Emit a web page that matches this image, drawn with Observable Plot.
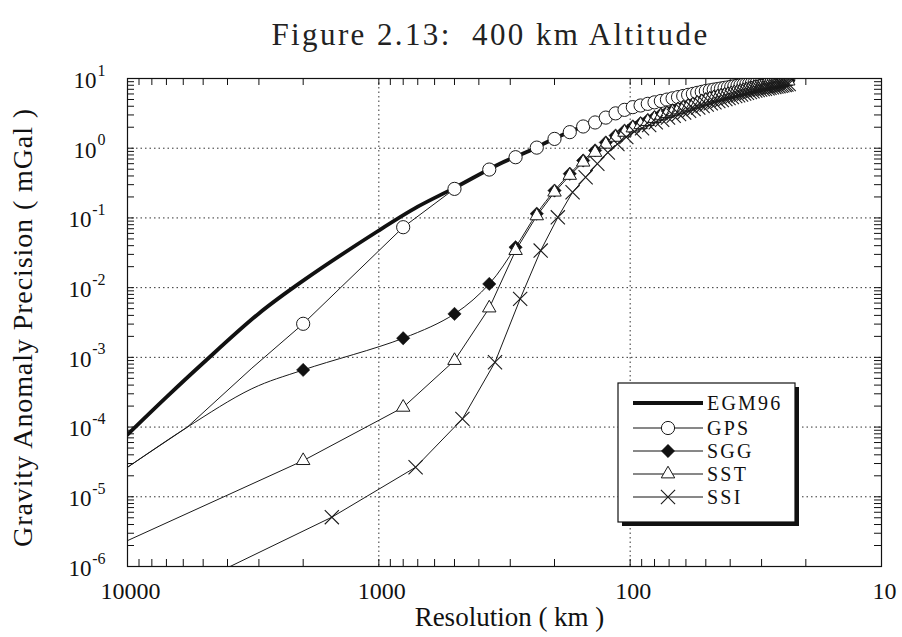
<!DOCTYPE html>
<html><head><meta charset="utf-8">
<script src="https://cdn.jsdelivr.net/npm/d3@7"></script>
<script src="https://cdn.jsdelivr.net/npm/@observablehq/plot@0.6"></script>
<style>body{margin:0;background:#fff;}</style>
</head><body><div id="chart"></div>
<script>
// ---------- text ----------
const titleText = "Figure 2.13:\u00a0 400 km Altitude";
const xLabel = "Resolution ( km )";
const yLabel = "Gravity Anomaly Precision ( mGal )";
const xTickLabels = [10000, 1000, 100, 10];
const yExponents = [1, 0, -1, -2, -3, -4, -5, -6];
const seriesNames = ["EGM96", "GPS", "SGG", "SST", "SSI"];

// ---------- data (resolution km, precision mGal) ----------
const egmRes = [10000, 7000, 5000, 3000, 2000, 1000, 700, 500, 330, 250, 200, 160, 125, 100, 80, 63, 50, 40, 32, 23.5];
const egmVal = [7.8e-5, 2.69e-4, 8.3e-4, 4.27e-3, 0.0126, 0.066, 0.145, 0.27, 0.60, 0.93, 1.38, 1.95, 2.75, 3.8, 4.55, 5.6, 6.62, 7.5, 8.6, 9.79];

// marker resolutions for GPS, SGG, SST
const markRes = [2000, 800, 500, 363.6, 285.7, 235.3, 200, 173.9, 153.8, 137.9,
  125, 114.3, 105.3, 97.6, 90.9, 85.1, 80, 75.5, 71.4, 67.8,
  64.5, 61.5, 58.8, 56.3, 54.1, 51.9, 50, 48.2, 46.5, 44.9,
  43.5, 42.1, 40.8, 39.6, 38.5, 37.4, 36.4, 35.4, 34.5, 33.6,
  32.8, 32, 31.3, 30.5, 29.9, 29.2, 28.6, 28, 27.4, 26.8,
  26.3, 25.8, 25.3, 24.8, 24.4, 24, 23.5];
const gpsVal = [0.00303, 0.0736, 0.261, 0.494, 0.743, 1.02, 1.36, 1.70, 2.05, 2.34,
  2.75, 3.16, 3.55, 3.88, 4.10, 4.33, 4.55, 4.76, 4.98, 5.19,
  5.40, 5.61, 5.82, 6.01, 6.22, 6.43, 6.62, 6.76, 6.92, 7.06,
  7.19, 7.34, 7.46, 7.60, 7.74, 7.87, 8.00, 8.15, 8.26, 8.40,
  8.51, 8.65, 8.75, 8.85, 8.93, 9.04, 9.12, 9.20, 9.29, 9.40,
  9.46, 9.55, 9.64, 9.73, 9.75, 9.77, 9.79];
const sggVal = [6.6e-4, 1.88e-3, 4.2e-3, 0.0113, 0.038, 0.115, 0.247, 0.43, 0.667, 0.93,
  1.21, 1.52, 1.79, 2.06, 2.29, 2.54, 2.80, 3.06, 3.29, 3.50,
  3.71, 3.94, 4.16, 4.37, 4.59, 4.83, 5.05, 5.28, 5.48, 5.64,
  5.80, 5.96, 6.11, 6.27, 6.43, 6.58, 6.73, 6.89, 7.05, 7.21,
  7.35, 7.52, 7.64, 7.82, 7.94, 8.07, 8.18, 8.30, 8.41, 8.55,
  8.65, 8.77, 8.89, 9.02, 9.10, 9.20, 9.33];
const sstVal = [3.3e-5, 1.92e-4, 9.0e-4, 5.1e-3, 0.034, 0.107, 0.234, 0.407, 0.63, 0.87,
  1.14, 1.43, 1.69, 1.95, 2.17, 2.41, 2.66, 2.91, 3.13, 3.33,
  3.54, 3.76, 3.98, 4.18, 4.40, 4.63, 4.85, 5.07, 5.27, 5.43,
  5.59, 5.75, 5.90, 6.06, 6.22, 6.37, 6.52, 6.68, 6.84, 7.00,
  7.14, 7.31, 7.43, 7.61, 7.73, 7.86, 7.98, 8.10, 8.22, 8.36,
  8.47, 8.59, 8.72, 8.85, 8.94, 9.04, 9.18];
const ssiRes = [1538, 714, 465, 345, 274, 227, 194, 169.5, 150.4, 135.1,
  122.7, 112.4, 103.6, 96.2, 89.7, 84.0, 79.1, 74.6, 70.7, 67.1,
  63.9, 61.0, 58.3, 55.9, 53.6, 51.5, 49.6, 47.8, 46.2, 44.6,
  43.2, 41.8, 40.6, 39.4, 38.2, 37.2, 36.2, 35.2, 34.3, 33.4,
  32.6, 31.8, 31.1, 30.4, 29.7, 29.1, 28.4, 27.9, 27.3, 26.7,
  26.2, 25.7, 25.2, 24.8, 24.3, 23.9, 23.4];
const ssiVal = [5.1e-6, 2.65e-5, 1.31e-4, 8.5e-4, 6.9e-3, 0.034, 0.102, 0.234, 0.384, 0.60,
  0.87, 1.15, 1.45, 1.74, 1.93, 2.15, 2.36, 2.56, 2.76, 2.92,
  3.09, 3.26, 3.44, 3.64, 3.83, 4.03, 4.22, 4.40, 4.56, 4.74,
  4.92, 5.09, 5.25, 5.43, 5.60, 5.74, 5.90, 6.07, 6.24, 6.40,
  6.56, 6.73, 6.84, 6.94, 7.05, 7.14, 7.26, 7.35, 7.46, 7.57,
  7.67, 7.76, 7.88, 7.98, 8.09, 8.19, 8.32];

// line-only leading points (left of first marker)
const gpsLeadRes = [10000, 5800, 3200], gpsLeadVal = [2.65e-5, 9.9e-5, 7.0e-4];
const sggLeadRes = [10000, 5800, 3200], sggLeadVal = [2.65e-5, 9.9e-5, 3.55e-4];
const sstLeadRes = [10000], sstLeadVal = [2.35e-6];
const ssiLeadRes = [5000], ssiLeadVal = [6.5e-7];

// ---------- build tables ----------
const pts = (rs, vs) => rs.map((r, i) => ({r, v: vs[i]}));
const egm = pts(egmRes, egmVal);
const gpsM = pts(markRes, gpsVal), sggM = pts(markRes, sggVal), sstM = pts(markRes, sstVal), ssiM = pts(ssiRes, ssiVal);
const gpsL = pts(gpsLeadRes, gpsLeadVal).concat(gpsM);
const sggL = pts(sggLeadRes, sggLeadVal).concat(sggM);
const sstL = pts(sstLeadRes, sstLeadVal).concat(sstM);
const ssiL = pts(ssiLeadRes, ssiLeadVal).concat(ssiM);

const W = 902, H = 637, mL = 127, mR = 21, mT = 78, mB = 71;
const innerW = W - mL - mR, innerH = H - mT - mB;
const xMinor = d3.scaleLog().domain([10, 10000]).ticks();
const yMinor = d3.scaleLog().domain([1e-6, 10]).ticks();
const yMajor = yExponents.map(e => Math.pow(10, e));
const TL = 7;
const lineStroke = "#1a1a1a";
const font = "'Liberation Serif', 'Times New Roman', serif";

const markerStyle = {
  GPS: {symbol: "circle", r: 6.6, fill: "white", stroke: lineStroke, strokeWidth: 1},
  SGG: {symbol: "diamond2", r: 6, fill: "#111", stroke: "#111", strokeWidth: 0.5},
  SST: {symbol: "triangle", r: 5, fill: "white", stroke: lineStroke, strokeWidth: 1},
  SSI: {symbol: "times", r: 6.5, fill: "none", stroke: lineStroke, strokeWidth: 1.1}
};

const svg = Plot.plot({
  width: W, height: H,
  marginLeft: mL, marginRight: mR, marginTop: mT, marginBottom: mB,
  style: {fontFamily: font, background: "white", color: "#111"},
  x: {type: "log", domain: [10000, 10], axis: null},
  y: {type: "log", domain: [1e-6, 10], axis: null},
  marks: [
    // dotted grid
    Plot.ruleX(xTickLabels, {x: d => d, stroke: "#333", strokeWidth: 1, strokeDasharray: "1.5,3"}),
    Plot.ruleY(yMajor, {y: d => d, stroke: "#333", strokeWidth: 1, strokeDasharray: "1.5,3"}),
    // inward ticks
    Plot.tickX(xMinor, {x: d => d, insetTop: innerH - TL, stroke: "#111"}),
    Plot.tickX(xMinor, {x: d => d, insetBottom: innerH - TL, stroke: "#111"}),
    Plot.tickY(yMinor, {y: d => d, insetRight: innerW - TL, stroke: "#111"}),
    Plot.tickY(yMinor, {y: d => d, insetLeft: innerW - TL, stroke: "#111"}),
    // series
    Plot.line(egm, {x: "r", y: "v", stroke: "#111", strokeWidth: 3.8, clip: true, curve: "catmull-rom"}),
    Plot.line(gpsL, {x: "r", y: "v", stroke: lineStroke, strokeWidth: 1, clip: true}),
    Plot.dot(gpsM, {x: "r", y: "v", ...markerStyle.GPS, clip: true}),
    Plot.line(sggL, {x: "r", y: "v", stroke: lineStroke, strokeWidth: 1, clip: true, curve: "catmull-rom"}),
    Plot.dot(sggM, {x: "r", y: "v", ...markerStyle.SGG, clip: true}),
    Plot.line(sstL, {x: "r", y: "v", stroke: lineStroke, strokeWidth: 1, clip: true}),
    Plot.dot(sstM, {x: "r", y: "v", ...markerStyle.SST, clip: true}),
    Plot.line(ssiL, {x: "r", y: "v", stroke: lineStroke, strokeWidth: 1, clip: true}),
    Plot.dot(ssiM, {x: "r", y: "v", ...markerStyle.SSI, clip: true}),
    Plot.frame({stroke: "#111", strokeWidth: 1.2}),
    // x tick labels
    Plot.text(xTickLabels, {x: d => d, frameAnchor: "bottom", lineAnchor: "middle", text: d => String(d), dy: 25, dx: 3, fontSize: 24, fill: "#111"}),
    // y tick labels: mantissa and exponent
    Plot.text(yExponents.filter(e => e >= 0), {frameAnchor: "left", y: e => Math.pow(10, e), text: () => "10", textAnchor: "end", dx: -31, dy: 2, fontSize: 23, fill: "#111"}),
    Plot.text(yExponents.filter(e => e < 0), {frameAnchor: "left", y: e => Math.pow(10, e), text: () => "10", textAnchor: "end", dx: -36, dy: 2, fontSize: 23, fill: "#111"}),
    Plot.text(yExponents, {frameAnchor: "left", y: e => Math.pow(10, e), text: e => String(e), textAnchor: "end", dx: -22, dy: -8, fontSize: 16, fill: "#111"}),
    // titles
    Plot.text([titleText], {frameAnchor: "top", lineAnchor: "middle", text: d => d, dy: -43, dx: -14, fontSize: 31, fill: "#222"}),
    Plot.text([xLabel], {frameAnchor: "bottom", lineAnchor: "middle", text: d => d, dy: 51, dx: 5, fontSize: 27, fill: "#111"}),
    Plot.text([yLabel], {frameAnchor: "left", textAnchor: "middle", lineAnchor: "middle", text: d => d, rotate: -90, dx: -104, dy: 5, fontSize: 28, fill: "#111"})
  ]
});

// letter spacing for title / y label
d3.select(svg).selectAll("text").each(function() {
  const t = this.textContent;
  if (t === titleText) this.setAttribute("letter-spacing", "2.4");
  if (t === yLabel) this.setAttribute("letter-spacing", "0.9");
});

// ---------- legend ----------
const g = d3.select(svg).append("g").attr("font-family", font).attr("text-anchor", "start");
const bx = 618, by = 383, bw = 177, bh = 139;
g.append("rect").attr("x", bx + 4).attr("y", by + 4).attr("width", bw).attr("height", bh).attr("fill", "#111");
g.append("rect").attr("x", bx).attr("y", by).attr("width", bw).attr("height", bh).attr("fill", "white").attr("stroke", "#111").attr("stroke-width", 1.2);
const rowY = [403, 428, 451, 474, 497];
const symMap = {circle: d3.symbolCircle, diamond2: d3.symbolDiamond2, triangle: d3.symbolTriangle, times: d3.symbolTimes};
seriesNames.forEach((name, i) => {
  const y = rowY[i];
  const isEgm = name === "EGM96";
  g.append("line").attr("x1", 633).attr("x2", 703).attr("y1", y).attr("y2", y)
    .attr("stroke", "#111").attr("stroke-width", isEgm ? 3.8 : 1);
  if (!isEgm) {
    const m = markerStyle[name];
    g.append("path").attr("transform", `translate(668,${y})`)
      .attr("d", d3.symbol(symMap[m.symbol], Math.PI * m.r * m.r)())
      .attr("fill", m.fill).attr("stroke", m.stroke).attr("stroke-width", m.strokeWidth);
  }
  g.append("text").attr("x", 707).attr("y", y).attr("dy", "0.35em").attr("font-size", 20)
    .attr("letter-spacing", 2.2).attr("fill", "#111").text(name);
});

document.getElementById("chart").appendChild(svg);
</script></body></html>
